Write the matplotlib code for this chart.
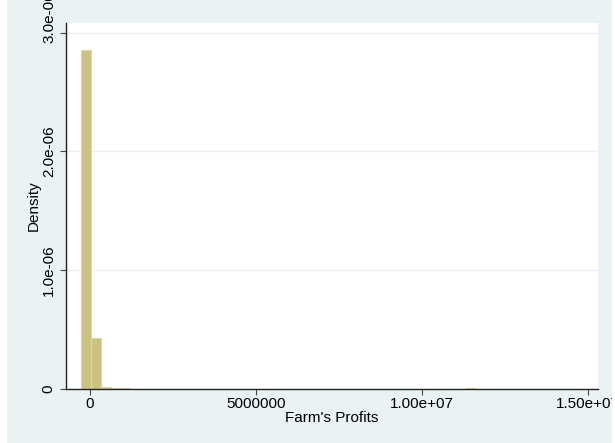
import matplotlib
matplotlib.use("Agg")
import matplotlib.pyplot as plt
from matplotlib.patches import Rectangle

plt.rcParams["font.family"] = ["Liberation Sans", "DejaVu Sans"]

# histogram bins (left edges) and densities
bin_width = 297000
bin_left = [-271000, 26000, 323000, 620000, 917000, 11312000]
density = [2.857e-06, 0.426e-06, 1.2e-08, 0.6e-08, 0.6e-08, 0.7e-08]

xticks = [0, 5000000, 10000000, 15000000]
xtick_labels = ["0", "5000000", "1.00e+07", "1.50e+07"]
yticks = [0, 1.0e-06, 2.0e-06, 3.0e-06]
ytick_labels = ["0", "1.0e-06", "2.0e-06", "3.0e-06"]

W, H = 615, 443
fig = plt.figure(figsize=(W / 100, H / 100), dpi=100)
fig.patch.set_facecolor("white")
# stata style graph region, drawn behind the axes
fig.patches.append(Rectangle((7 / W, 0), 605 / W, 1,
                             transform=fig.transFigure, facecolor="#eaf2f3",
                             edgecolor="none", zorder=-10))
# white strip on the right cuts the last tick label like in the original
fig.patches.append(Rectangle((612 / W, 0), 3 / W, 1,
                             transform=fig.transFigure, facecolor="white",
                             edgecolor="none", zorder=10))

ax = fig.add_axes([66 / W, (H - 388.5) / H, 532 / W, 365.5 / H])
ax.set_facecolor("white")
ax.set_zorder(1)

ax.bar(bin_left, density, width=bin_width, align="edge",
       color="#c9c281", edgecolor="#dcd7a8", linewidth=0.8, zorder=2)

ax.set_xlim(-723000, 15300000)
ax.set_ylim(0, 3.084e-06)

ax.set_xticks(xticks)
ax.set_xticklabels(xtick_labels)
ax.set_yticks(yticks)
# top label sits higher in the original, placed by hand below
ax.set_yticklabels(ytick_labels[:-1] + [""], rotation=90, va="center")

ax.yaxis.grid(True, color="#eaf2f3", linewidth=1.0, zorder=0)
ax.set_axisbelow(True)

for s in ["top", "right"]:
    ax.spines[s].set_visible(False)
for s in ["left", "bottom"]:
    ax.spines[s].set_color("#222222")
    ax.spines[s].set_linewidth(1.0)

ax.tick_params(axis="both", direction="out", length=4.3, width=0.8,
               color="#444444", labelsize=11)
ax.tick_params(axis="y", pad=3)
ax.tick_params(axis="x", pad=1.5)

ax.annotate(ytick_labels[-1], xy=(0, yticks[-1]),
            xycoords=("axes fraction", "data"),
            xytext=(-6 - 4, 16), textcoords="offset pixels",
            rotation=90, ha="right", va="center", fontsize=11)

ax.set_xlabel("Farm's Profits", fontsize=11, labelpad=0.5)
ax.set_ylabel("Density", fontsize=11, labelpad=1)

fig.savefig("out.png", dpi=100, facecolor=fig.get_facecolor())
